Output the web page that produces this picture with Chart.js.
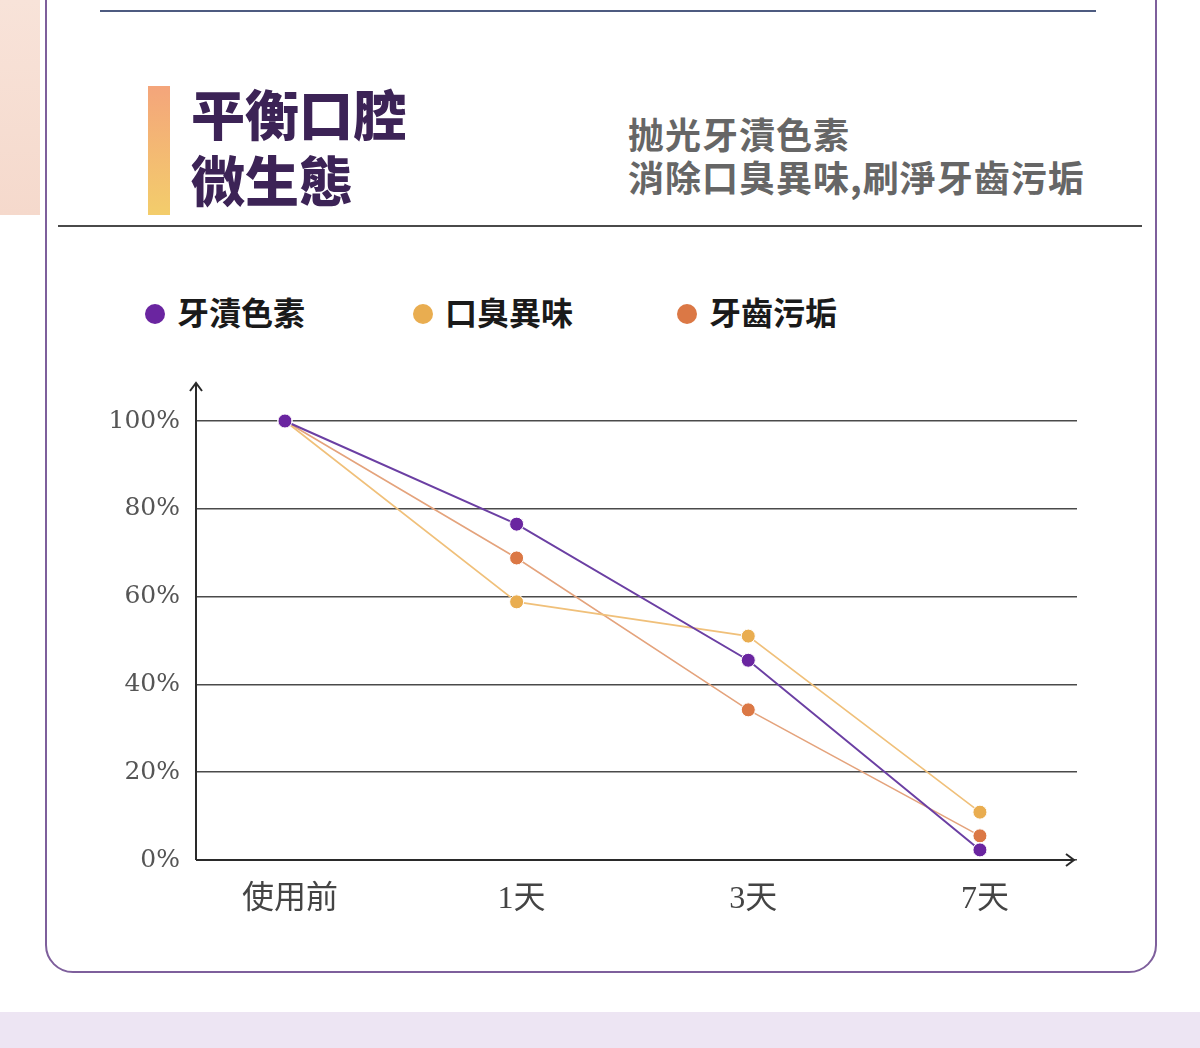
<!DOCTYPE html>
<html>
<head>
<meta charset="utf-8">
<script src="https://cdn.jsdelivr.net/npm/chart.js@4.4.1/dist/chart.umd.min.js"></script>
<style>
  html, body { margin: 0; padding: 0; background: #fff; }
  body { width: 1200px; height: 1048px; position: relative; overflow: hidden;
         font-family: "Noto Sans CJK TC", "Noto Sans", sans-serif; }
  .abs { position: absolute; }
  #peach { left: 0; top: 0; width: 40px; height: 215px;
           background: linear-gradient(180deg, #f8e3d9, #f5d9cc); }
  #card { left: 45px; top: -60px; width: 1112px; height: 1033px;
          border: 2px solid #7e5f9c; border-radius: 28px; box-sizing: border-box; }
  #band { left: 0; top: 1012px; width: 1200px; height: 36px; background: #ede5f3; }
  #topline { left: 100px; top: 10px; width: 996px; height: 2px; background: #4d5b80; }
  #midline { left: 58px; top: 225px; width: 1084px; height: 2px; background: #4a4a4a; }
  #bar { left: 148px; top: 86px; width: 22px; height: 129px;
         background: linear-gradient(180deg, #f4a57b, #f3cd6b); }
  .title { left: 191px; font-size: 54px; font-weight: 900; color: #3c2356; line-height: 1; }
  .sub { left: 628px; font-size: 36px; font-weight: 700; color: #666; line-height: 1; letter-spacing: 1px; }
  .leg { font-size: 32px; font-weight: 700; color: #1a1a1a; line-height: 1; top: 295px; }
  .dot { width: 20px; height: 20px; border-radius: 50%; top: 304px; }
  #chart { left: 0; top: 0; }
</style>
</head>
<body>
<div id="peach" class="abs"></div>
<div id="card" class="abs"></div>
<div id="band" class="abs"></div>
<div id="topline" class="abs"></div>
<div id="midline" class="abs"></div>
<div id="bar" class="abs"></div>
<div class="abs title" style="top:86px">平衡口腔</div>
<div class="abs title" style="top:152px">微生態</div>
<div class="abs sub" style="top:115px">抛光牙漬色素</div>
<div class="abs sub" style="top:158px">消除口臭異味,刷淨牙齒污垢</div>
<div id="legend"></div>
<canvas id="chart" class="abs" width="1200" height="1048"></canvas>
<script>
// categories and series values (percent remaining)
const categories = ['使用前', '1天', '3天', '7天'];
const yTicks = [0, 20, 40, 60, 80, 100];
const stain = [100, 76.5, 45.5, 2.3];
const odor = [100, 58.8, 51, 10.9];
const plaque = [100, 68.8, 34.2, 5.5];
const seriesNames = ['牙漬色素', '口臭異味', '牙齒污垢'];

const pointColors = ['#6a25a0', '#e9ad50', '#db7845'];
const lineColors = ['#6b3fa3', '#f0c07a', '#e4a37c'];
const lineWidths = [2, 1.6, 1.6];
const legendX = [145, 413, 677];

// HTML legend
document.getElementById('legend').innerHTML = seriesNames.map((n, i) =>
  `<div class="abs dot" style="left:${legendX[i]}px;background:${pointColors[i]}"></div>
   <div class="abs leg" style="left:${legendX[i] + 32}px">${n}</div>`).join('');

const axisArrows = {
  id: 'axisArrows',
  afterDraw(chart) {
    const { ctx, chartArea } = chart;
    const x0 = chartArea.left, y0 = chartArea.bottom;
    ctx.save();
    ctx.strokeStyle = '#2a2a2a'; ctx.lineWidth = 2;
    ctx.beginPath();
    ctx.moveTo(x0, y0); ctx.lineTo(x0, chartArea.top - 38);
    ctx.moveTo(x0 - 6, chartArea.top - 30); ctx.lineTo(x0, chartArea.top - 38); ctx.lineTo(x0 + 6, chartArea.top - 30);
    ctx.moveTo(x0, y0); ctx.lineTo(chartArea.right - 3, y0);
    ctx.moveTo(chartArea.right - 11, y0 - 6); ctx.lineTo(chartArea.right - 3, y0); ctx.lineTo(chartArea.right - 11, y0 + 6);
    ctx.stroke();
    ctx.restore();
  },
};

const toPts = arr => arr.map((v, i) => ({ x: i, y: v }));
// dataset 0 (purple) is drawn on top
const datasets = [stain, odor, plaque].map((arr, i) => ({
  label: seriesNames[i], data: toPts(arr), clip: false,
  borderColor: lineColors[i], borderWidth: lineWidths[i],
  pointBackgroundColor: pointColors[i], pointBorderColor: '#fff', pointBorderWidth: 1,
  pointRadius: 7, tension: 0, fill: false,
}));

new Chart(document.getElementById('chart').getContext('2d'), {
  type: 'line',
  data: { datasets },
  plugins: [axisArrows],
  options: {
    responsive: false, animation: false, devicePixelRatio: 1,
    layout: { padding: { left: 0, top: 421, right: 123, bottom: 0 } },
    plugins: { legend: { display: false }, tooltip: { enabled: false } },
    scales: {
      x: {
        type: 'linear', min: -0.384, max: 3.419,
        afterFit: s => { s.height = 188; },
        afterBuildTicks: s => { s.ticks = categories.map((c, i) => ({ value: i })); },
        grid: { display: false, drawTicks: false },
        border: { display: false },
        ticks: {
          padding: 20, color: '#444', labelOffset: 5,
          font: { family: '"Liberation Serif", "Noto Sans CJK TC", serif', size: 32 },
          callback: v => categories[v] ?? '',
        },
      },
      y: {
        min: 0, max: 100,
        afterFit: s => { s.width = 196; },
        afterBuildTicks: s => { s.ticks = yTicks.map(v => ({ value: v })); },
        grid: { color: '#4a4a4a', lineWidth: 1.5, drawTicks: false },
        border: { display: false },
        ticks: {
          padding: 16, color: '#555',
          font: { family: '"DejaVu Serif", serif', size: 25 },
          callback: v => v + '%',
        },
      },
    },
  },
});
</script>
</body>
</html>
